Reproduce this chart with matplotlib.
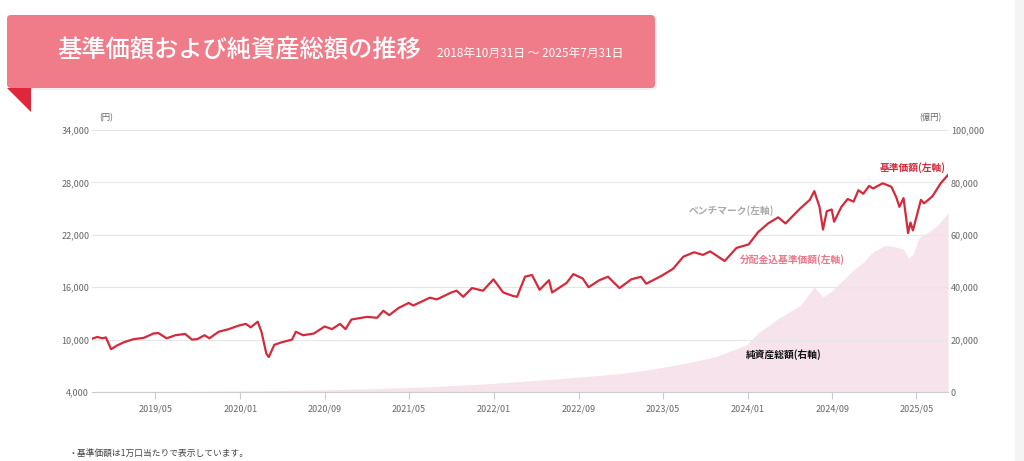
import matplotlib
matplotlib.use("Agg")
import matplotlib.pyplot as plt
import matplotlib.dates as mdates
from matplotlib.patches import FancyBboxPatch, Polygon, Rectangle
import pandas as pd

plt.rcParams['font.family'] = ['Noto Sans CJK JP', 'DejaVu Sans']

# 基準価額 (円, 左軸)
nav_dates = ['2018-10-31', '2018-11-15', '2018-11-30', '2018-12-10', '2018-12-25', '2019-01-10',
             '2019-01-31', '2019-02-28', '2019-03-29', '2019-04-15', '2019-04-26', '2019-05-10',
             '2019-06-03', '2019-06-28', '2019-07-26', '2019-08-15', '2019-08-30', '2019-09-20',
             '2019-10-04', '2019-10-31', '2019-11-29', '2019-12-27', '2020-01-17', '2020-01-31',
             '2020-02-20', '2020-03-02', '2020-03-16', '2020-03-23', '2020-04-08', '2020-04-30',
             '2020-05-29', '2020-06-09', '2020-06-30', '2020-07-31', '2020-08-31', '2020-09-21',
             '2020-10-14', '2020-10-30', '2020-11-16', '2020-12-31', '2021-01-29', '2021-02-16',
             '2021-03-05', '2021-03-31', '2021-04-30', '2021-05-13', '2021-06-30', '2021-07-20',
             '2021-08-31', '2021-09-15', '2021-10-04', '2021-10-29', '2021-11-30', '2021-12-30',
             '2022-01-27', '2022-02-24', '2022-03-08', '2022-03-31', '2022-04-20', '2022-05-12',
             '2022-06-08', '2022-06-17', '2022-07-29', '2022-08-17', '2022-09-13', '2022-09-30',
             '2022-10-31', '2022-11-25', '2022-12-28', '2023-01-31', '2023-02-28', '2023-03-15',
             '2023-04-28', '2023-05-31', '2023-06-30', '2023-07-31', '2023-08-25', '2023-09-15',
             '2023-10-27', '2023-11-30', '2024-01-04', '2024-01-31', '2024-02-29', '2024-03-29',
             '2024-04-19', '2024-05-31', '2024-06-28', '2024-07-11', '2024-07-26', '2024-08-05',
             '2024-08-16', '2024-08-30', '2024-09-06', '2024-09-27', '2024-10-15', '2024-11-01',
             '2024-11-15', '2024-11-29', '2024-12-16', '2024-12-27', '2025-01-24', '2025-02-18',
             '2025-03-04', '2025-03-13', '2025-03-25', '2025-04-07', '2025-04-14', '2025-04-21',
             '2025-05-14', '2025-05-23', '2025-06-16', '2025-07-10', '2025-07-31']
nav_values = [10100, 10300, 10150, 10250, 8900, 9300,
              9700, 10050, 10200, 10500, 10700, 10750,
              10150, 10500, 10650, 10000, 10050, 10500,
              10150, 10900, 11200, 11600, 11800, 11400,
              12050, 10900, 8400, 8000, 9400, 9700,
              10000, 10900, 10500, 10700, 11500, 11200,
              11800, 11200, 12300, 12600, 12500, 13300,
              12800, 13600, 14200, 13900, 14800, 14600,
              15400, 15600, 14900, 15900, 15600, 16900,
              15400, 15000, 14900, 17200, 17400, 15700,
              16800, 15400, 16500, 17500, 17000, 16000,
              16800, 17200, 15900, 16900, 17200, 16400,
              17300, 18100, 19500, 20000, 19700, 20100,
              19000, 20500, 20900, 22300, 23300, 24000,
              23300, 25000, 26000, 27000, 25200, 22600,
              24700, 24900, 23500, 25200, 26100, 25800,
              27100, 26700, 27600, 27300, 27900, 27500,
              26300, 25200, 26200, 22200, 23400, 22500,
              26000, 25600, 26400, 27900, 28850]

# 純資産総額 (億円, 右軸)
aum_dates = ['2018-10-31', '2019-06-28', '2019-12-30', '2020-06-30', '2020-12-30', '2021-06-30',
             '2021-12-30', '2022-06-30', '2022-12-30', '2023-03-31', '2023-06-30', '2023-09-29',
             '2023-12-29', '2024-01-31', '2024-03-29', '2024-05-31', '2024-07-11', '2024-08-05',
             '2024-08-30', '2024-09-30', '2024-10-31', '2024-11-29', '2024-12-27', '2025-01-31',
             '2025-02-28', '2025-03-25', '2025-04-07', '2025-04-21', '2025-05-09', '2025-05-30',
             '2025-06-30', '2025-07-31']
aum_values = [0, 150, 400, 700, 1200, 2000,
              3300, 5000, 7000, 8700, 10800, 13400,
              18000, 22500, 28000, 33000, 40000, 36300,
              38500, 42500, 46500, 49500, 53500, 56000,
              55500, 54500, 51000, 52500, 59000, 60500,
              63500, 68300]

left_ticks = [4000, 10000, 16000, 22000, 28000, 34000]
right_ticks = [0, 20000, 40000, 60000, 80000, 100000]
x_ticks = ['2019-05', '2020-01', '2020-09', '2021-05', '2022-01', '2022-09',
           '2023-05', '2024-01', '2024-09', '2025-05']

nav = pd.Series(nav_values, index=pd.to_datetime(nav_dates))
aum = pd.Series(aum_values, index=pd.to_datetime(aum_dates))

RED = '#d42a3c'
GRAY = '#666666'

fig = plt.figure(figsize=(10.24, 4.61), dpi=100)

# decoration layer in pixel coords (below the chart)
deco = fig.add_axes([0, 0, 1, 1], zorder=0)
deco.set_xlim(0, 1024)
deco.set_ylim(461, 0)
deco.axis('off')
deco.add_patch(Rectangle((1015, 0), 9, 461, color='#f4f4f7', lw=0))
deco.add_patch(FancyBboxPatch((9, 18), 648, 72, boxstyle='round,pad=0,rounding_size=4',
                              fc='#000000', alpha=0.06, lw=0))
deco.add_patch(FancyBboxPatch((7, 15), 648, 73, boxstyle='round,pad=0,rounding_size=4',
                              fc='#f07b89', lw=0))
deco.add_patch(Polygon([(7, 88), (31, 88), (31, 112)], closed=True, fc='#e0263b', lw=0))
deco.text(57, 50, '基準価額および純資産総額の推移', color='white', fontsize=17.5,
          fontweight='medium', va='center', ha='left')
deco.text(437, 53, '2018年10月31日 ～ 2025年7月31日', color='white', fontsize=8.5,
          va='center', ha='left')
deco.text(106, 118, '(円)', color=GRAY, fontsize=6, ha='center', va='center')
deco.text(930, 118, '(億円)', color=GRAY, fontsize=6, ha='center', va='center')
deco.text(68, 453, '・基準価額は1万口当たりで表示しています。', color='#444444', fontsize=6.3,
          ha='left', va='center')

ax = fig.add_axes([92 / 1024, 69 / 461, 856 / 1024, 262 / 461], zorder=2)
ax2 = ax.twinx()
ax2.set_zorder(1)
ax.patch.set_visible(False)
ax2.patch.set_visible(False)

ax2.fill_between(aum.index, 0, aum.values, color='#f7e3eb', lw=0)
ax2.set_ylim(0, 100000)
ax2.set_yticks(right_ticks)
ax2.set_yticklabels([f'{v:,}' for v in right_ticks])

ax.plot(nav.index, nav.values, color=RED, lw=1.6)
ax.set_ylim(4000, 34000)
ax.set_yticks(left_ticks)
ax.set_yticklabels([f'{v:,}' for v in left_ticks])
ax.set_xlim(pd.Timestamp('2018-10-31'), pd.Timestamp('2025-07-31'))
ax.set_xticks(pd.to_datetime(x_ticks))
ax.xaxis.set_major_formatter(mdates.DateFormatter('%Y/%m'))
ax.grid(axis='y', color='#e6e6e6', lw=0.8)

for a in (ax, ax2):
    for s in a.spines.values():
        s.set_visible(False)
    a.tick_params(axis='y', length=0, labelsize=6.5, labelcolor=GRAY, pad=2)
ax.spines['bottom'].set_visible(True)
ax.spines['bottom'].set_color('#cccccc')
ax.tick_params(axis='x', length=5, color='#cccccc', labelsize=6.5, labelcolor=GRAY, pad=4)
ax2.set_xlim(ax.get_xlim())
ax2.tick_params(axis='x', length=0)

# series labels (above the chart)
top = fig.add_axes([0, 0, 1, 1], zorder=5)
top.set_xlim(0, 1024)
top.set_ylim(461, 0)
top.axis('off')
top.patch.set_visible(False)
top.text(946, 168, '基準価額(左軸)', color=RED, fontsize=7, fontweight='bold',
         ha='right', va='center')
top.text(731, 211, 'ベンチマーク(左軸)', color='#aaaaaa', fontsize=7, fontweight='bold',
         ha='center', va='center')
top.text(792, 260, '分配金込基準価額(左軸)', color='#e8788a', fontsize=7, fontweight='bold',
         ha='center', va='center')
top.text(784, 355, '純資産総額(右軸)', color='#111111', fontsize=7, fontweight='bold',
         ha='center', va='center')

fig.savefig('out.png', dpi=100)
